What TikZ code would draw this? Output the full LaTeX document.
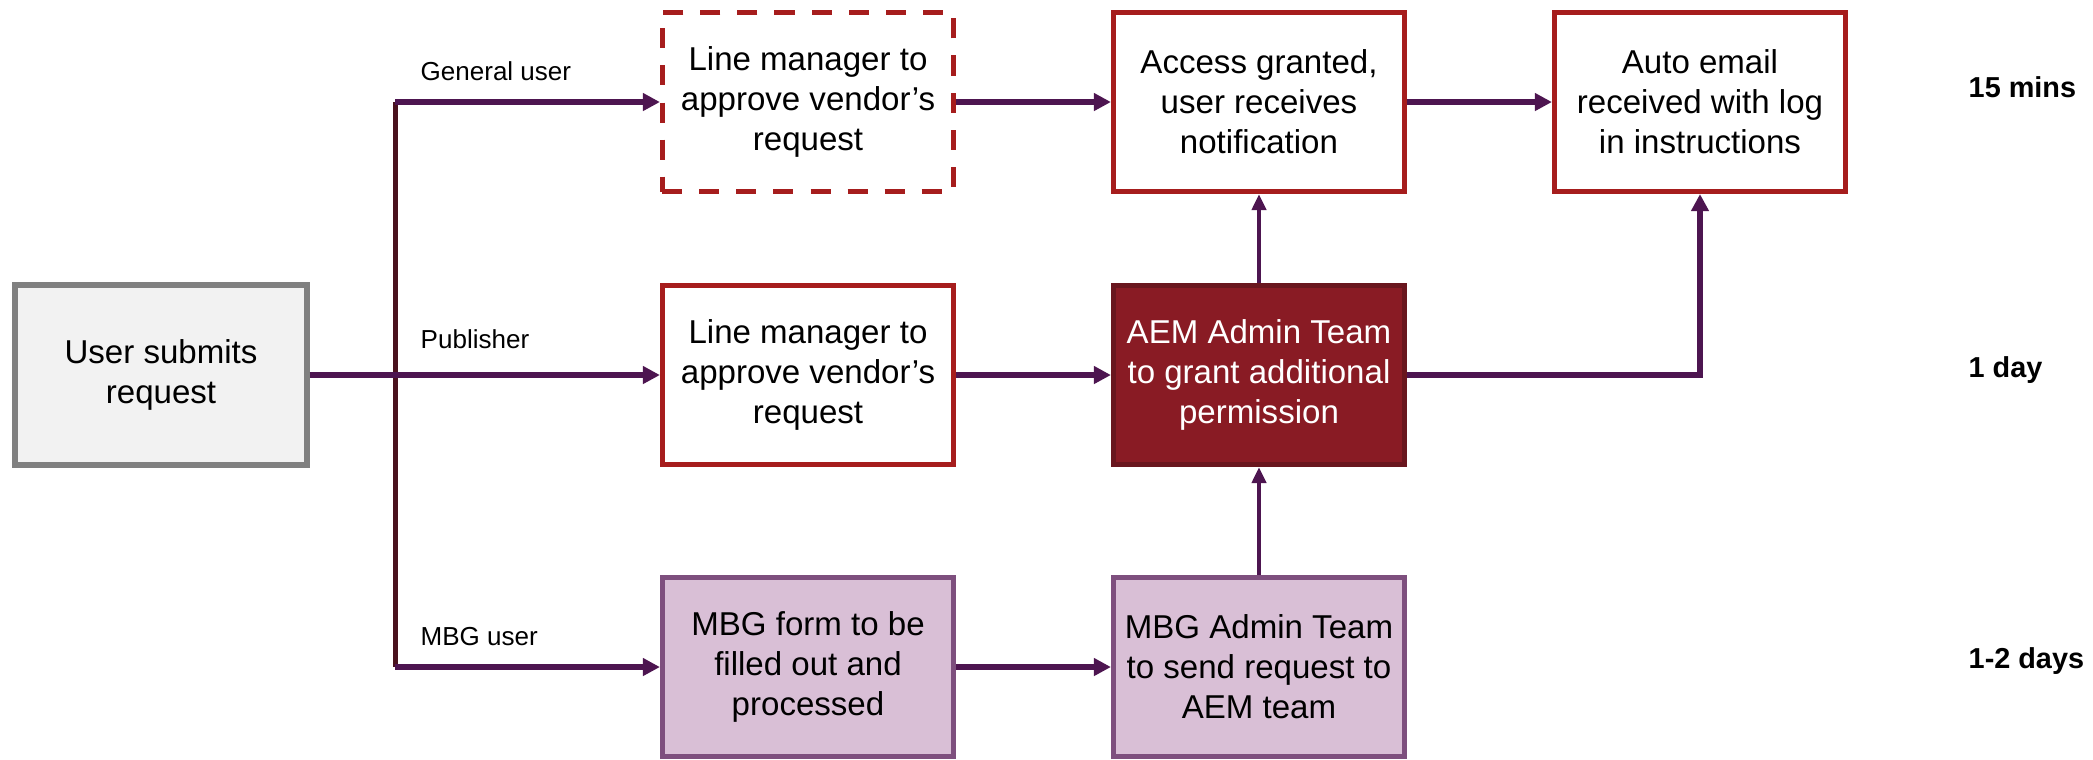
\documentclass[tikz,border=0pt]{standalone}
\usepackage{fontspec}
\setmainfont{Liberation Sans}
\usetikzlibrary{arrows.meta}
\definecolor{boxred}{RGB}{166,29,29}
\definecolor{aemfill}{RGB}{137,27,36}
\definecolor{aemline}{RGB}{105,22,30}
\definecolor{mbgfill}{RGB}{217,191,214}
\definecolor{mbgline}{RGB}{126,79,126}
\definecolor{userfill}{RGB}{242,242,242}
\definecolor{userline}{RGB}{128,128,128}
\definecolor{flowpurple}{RGB}{77,21,80}
\definecolor{trunkline}{RGB}{74,18,30}

\begin{document}
\begin{tikzpicture}[x=0.01cm, y=-0.01cm,
		box/.style={draw, line width=0.05cm, minimum width=2.91cm, minimum height=1.79cm, inner sep=0pt, align=center, font=\fontsize{9.4}{11.4}\selectfont},
		redbox/.style={box, draw=boxred, fill=white},
		dashbox/.style={redbox, dash pattern=on 0.2cm off 0.17cm},
		aembox/.style={box, draw=aemline, fill=aemfill, text=white},
		mbgbox/.style={box, draw=mbgline, fill=mbgfill},
		userbox/.style={box, draw=userline, fill=userfill, line width=0.06cm},
		lbl/.style={font=\fontsize{7.4}{9}\selectfont, inner sep=0pt},
		timelbl/.style={font=\fontsize{8.2}{10}\selectfont\bfseries, inner sep=0pt},
		flow/.style={draw=flowpurple, line width=0.06cm, -{Triangle[length=0.17cm, width=0.17cm]}},
		upflow/.style={flow, line width=0.04cm, -{Triangle[length=0.16cm, width=0.14cm]}},
		trunk/.style={draw=trunkline, line width=0.05cm}]
	\useasboundingbox (0,0) rectangle (2093,759);

	\node[userbox] (user) at (161,375) {User submits\\request};

	\node[dashbox] (lm1) at (808,102) {Line manager to\\approve vendor’s\\request};
	\node[redbox] (access) at (1259,102) {Access granted,\\user receives\\notification};
	\node[redbox] (email) at (1700,102) {Auto email\\received with log\\in instructions};

	\node[redbox] (lm2) at (808,375) {Line manager to\\approve vendor’s\\request};
	\node[aembox] (aem) at (1259,375) {AEM Admin Team\\to grant additional\\permission};

	\node[mbgbox] (mbgform) at (808,667) {MBG form to be\\filled out and\\processed};
	\node[mbgbox] (mbgadmin) at (1259,667) {MBG Admin Team\\to send request to\\AEM team};

	\node[lbl, anchor=base west] (lgen) at (420,80) {General user};
	\node[lbl, anchor=base west] (lpub) at (420,348) {Publisher};
	\node[lbl, anchor=base west] (lmbg) at (420,645) {MBG user};

	\node[timelbl, anchor=base west] (t1) at (1968,97) {15 mins};
	\node[timelbl, anchor=base west] (t2) at (1968,377) {1 day};
	\node[timelbl, anchor=base west] (t3) at (1968,668) {1-2 days};

	\coordinate (tx) at (395,0);
	\draw[trunk] (tx |- lm1.west) -- (tx |- mbgform.west);
	\draw[flow] (tx |- lm1.west) -- (lm1.west);
	\draw[flow] (user.east) -- (lm2.west);
	\draw[flow] (tx |- mbgform.west) -- (mbgform.west);

	\draw[flow] (lm1.east) -- (access.west);
	\draw[flow] (access.east) -- (email.west);
	\draw[flow] (lm2.east) -- (aem.west);
	\draw[flow] (mbgform.east) -- (mbgadmin.west);
	\draw[upflow] (aem.north) -- (access.south);
	\draw[upflow] (mbgadmin.north) -- (aem.south);
	\draw[flow] (aem.east) -| (email.south);
\end{tikzpicture}
\end{document}
